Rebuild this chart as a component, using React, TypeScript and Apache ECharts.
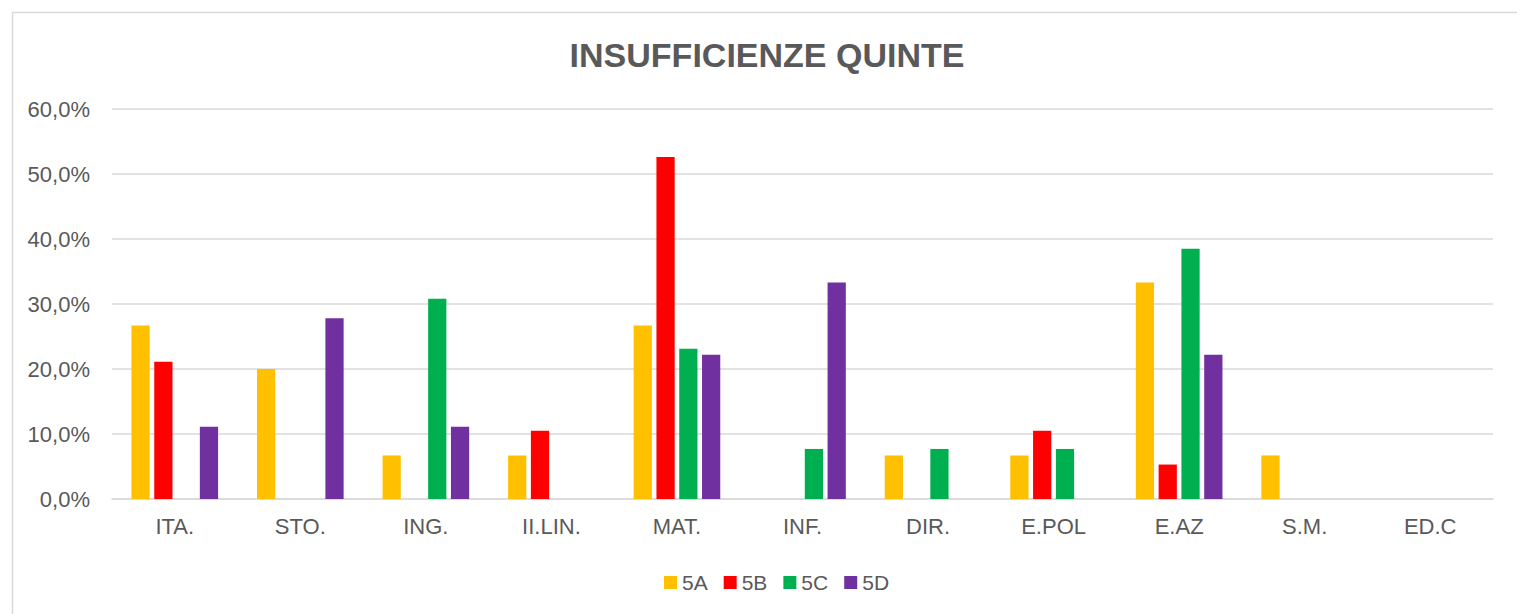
import React, { useEffect, useRef } from "react";
import * as echarts from "echarts";

const categories = ["ITA.", "STO.", "ING.", "II.LIN.", "MAT.", "INF.", "DIR.", "E.POL", "E.AZ", "S.M.", "ED.C"];
const s5A = [26.7, 20.0, 6.7, 6.7, 26.7, 0, 6.7, 6.7, 33.3, 6.7, 0];
const s5B = [21.1, 0, 0, 10.5, 52.6, 0, 0, 10.5, 5.3, 0, 0];
const s5C = [0, 0, 30.8, 0, 23.1, 7.7, 7.7, 7.7, 38.5, 0, 0];
const s5D = [11.1, 27.8, 11.1, 0, 22.2, 33.3, 0, 0, 22.2, 0, 0];
const seriesNames = ["5A", "5B", "5C", "5D"];
const seriesColors = ["#FFC000", "#FF0000", "#00B050", "#7030A0"];
const titleText = "INSUFFICIENZE QUINTE";

const FONT = "'Liberation Sans', Arial, sans-serif";
const TEXT = "#595959";
const GRID = "#D9D9D9";

export default function App() {
  const ref = useRef<HTMLDivElement>(null);
  useEffect(() => {
    if (!ref.current) return;
    const chart = echarts.init(ref.current, null, { renderer: "svg" });
    const data = [s5A, s5B, s5C, s5D];
    chart.setOption({
      animation: false,
      backgroundColor: "#fff",
      textStyle: { fontFamily: FONT },
      graphic: [
        {
          type: "rect",
          shape: { x: 12.5, y: 12.5, width: 1600, height: 700 },
          style: { fill: "none", stroke: GRID, lineWidth: 1.5 },
          silent: true,
        },
        {
          type: "text",
          x: 767,
          y: 55,
          style: {
            text: titleText,
            fontFamily: FONT,
            fontSize: 34,
            fontWeight: "bold",
            fill: TEXT,
            textAlign: "center",
            textVerticalAlign: "middle",
          },
        },
      ],
      grid: { left: 112, right: 24, top: 109, bottom: 115, containLabel: false },
      legend: {
        data: seriesNames,
        left: 659,
        top: 567,
        icon: "rect",
        itemWidth: 13,
        itemHeight: 13,
        itemGap: 16,
        textStyle: { color: TEXT, fontSize: 21, fontFamily: FONT },
      },
      xAxis: {
        type: "category",
        data: categories,
        axisLine: { show: true, lineStyle: { color: GRID, width: 1.5 } },
        axisTick: { show: false },
        axisLabel: { color: TEXT, fontSize: 22, fontFamily: FONT, margin: 16, interval: 0 },
      },
      yAxis: {
        type: "value",
        min: 0,
        max: 60,
        interval: 10,
        axisLine: { show: false },
        axisTick: { show: false },
        splitLine: { lineStyle: { color: GRID, width: 1.5 } },
        axisLabel: {
          color: TEXT,
          fontSize: 22,
          fontFamily: FONT,
          margin: 22,
          formatter: (v: number) => v.toFixed(1).replace(".", ",") + "%",
        },
      },
      series: seriesNames.map((name, i) => ({
        name,
        type: "bar",
        data: data[i],
        itemStyle: { color: seriesColors[i] },
        barGap: "25%",
        barCategoryGap: "31%",
      })),
    });
    return () => chart.dispose();
  }, []);
  return (
    <div
      ref={ref}
      style={{ position: "absolute", left: 0, top: 0, width: 1517, height: 614 }}
    />
  );
}
